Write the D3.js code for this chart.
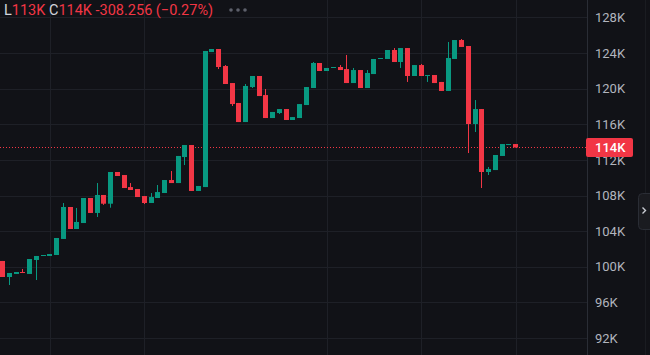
<!DOCTYPE html>
<html>
<head>
<meta charset="utf-8">
<script src="https://cdn.jsdelivr.net/npm/d3@7"></script>
<style>
  html, body { margin: 0; padding: 0; background: #111217; overflow: hidden; }
  svg { display: block; }
</style>
</head>
<body>
<div id="chart"></div>
<script>
// daily candles, prices in thousands (K)
const opens = [100.65, 98.85, 99.19, 99.41, 99.19, 100.76, 101.21, 101.21, 101.32, 103.12,
  106.71, 104.24, 104.91, 107.72, 106.04, 108.06, 107.08, 110.64, 110.30, 108.95,
  108.73, 107.94, 107.16, 107.72, 108.28, 109.74, 109.40, 112.32, 113.67, 108.51,
  108.95, 124.11, 124.45, 122.54, 120.63, 118.39, 116.25, 120.18, 121.42, 119.28,
  116.70, 117.26, 117.71, 116.48, 116.70, 118.16, 120.07, 122.88, 121.98, 122.32,
  122.43, 122.20, 120.63, 122.09, 120.07, 121.64, 123.33, 123.33, 124.34, 122.99,
  124.56, 121.42, 122.65, 121.42, 121.53, 120.75, 119.74, 123.33, 125.46, 124.79,
  116.03, 117.71, 110.64, 110.86, 112.44, 113.67, 113.78];
const highs = [100.65, 99.30, 99.41, 99.75, 100.87, 101.21, 101.32, 101.43, 103.23, 107.16,
  106.71, 106.60, 107.72, 107.72, 109.40, 108.06, 110.64, 110.64, 110.30, 109.40,
  108.73, 107.94, 108.28, 109.18, 109.74, 110.75, 112.44, 113.67, 113.67, 109.07,
  124.23, 124.45, 124.45, 122.65, 120.63, 118.39, 120.52, 121.42, 121.42, 119.96,
  117.38, 117.71, 117.71, 116.81, 118.27, 120.18, 122.99, 122.88, 122.32, 122.43,
  122.65, 123.78, 122.32, 122.09, 122.09, 123.33, 123.44, 124.34, 124.56, 124.56,
  124.56, 122.65, 122.77, 121.53, 121.53, 120.75, 125.24, 125.46, 125.57, 124.79,
  118.72, 117.71, 111.20, 112.55, 113.78, 113.78, 113.78];
const lows = [98.85, 97.95, 99.19, 99.30, 99.19, 98.51, 101.21, 101.21, 101.32, 103.12,
  104.24, 104.24, 104.91, 106.04, 105.59, 106.95, 106.63, 110.19, 108.84, 108.62,
  107.83, 107.04, 107.16, 107.72, 108.28, 109.40, 109.40, 111.42, 108.51, 108.51,
  108.95, 124.11, 122.20, 120.52, 118.05, 116.25, 116.25, 120.07, 119.17, 116.70,
  116.70, 117.15, 116.48, 116.48, 116.70, 118.16, 120.07, 121.98, 121.98, 122.32,
  122.09, 120.63, 120.63, 120.07, 120.07, 121.64, 123.33, 123.33, 122.99, 122.32,
  120.75, 121.42, 121.42, 120.75, 120.63, 119.74, 119.74, 123.33, 124.68, 112.77,
  115.13, 108.84, 110.30, 110.86, 112.44, 113.67, 113.40];
const closes = [98.85, 99.30, 99.41, 99.30, 100.87, 101.21, 101.32, 101.43, 103.23, 106.71,
  104.24, 105.03, 107.72, 106.04, 108.06, 107.08, 110.64, 110.19, 108.84, 108.62,
  107.83, 107.16, 107.83, 108.39, 109.74, 109.40, 112.44, 113.67, 108.51, 109.07,
  124.23, 124.45, 122.43, 120.52, 118.27, 116.25, 120.30, 121.42, 119.17, 116.70,
  117.38, 117.71, 116.48, 116.81, 118.27, 120.18, 122.88, 121.98, 122.32, 122.43,
  122.09, 120.63, 122.09, 120.07, 121.76, 123.33, 123.44, 124.34, 122.99, 124.56,
  121.42, 122.65, 121.42, 121.53, 120.63, 119.74, 123.44, 125.46, 124.68, 116.03,
  117.71, 110.64, 110.98, 112.55, 113.78, 113.78, 113.40];

const priceTicks = [92, 96, 100, 104, 108, 112, 116, 120, 124, 128];
const timeGridIdx = [7, 21, 48, 62, 76];

const headerParts = [
  { t: "L", kind: "key" }, { t: "113K", kind: "val" },
  { t: " C", kind: "key" }, { t: "114K", kind: "val" },
  { t: " -308.256 (\u22120.27%)", kind: "val" }
];
const lastPriceLabel = "114K";

const W = 650, H = 355;
const plotRight = 587;
const up = "#089981", down = "#f23645";
const font = "Roboto, 'Liberation Sans', sans-serif";

const candles = opens.map((o, i) => ({ i: i, o: o, h: highs[i], l: lows[i], c: closes[i] }));

const svg = d3.select("#chart").append("svg")
    .attr("width", W)
    .attr("height", H);

svg.append("rect").attr("width", W).attr("height", H).attr("fill", "#111217");

const x = d3.scaleLinear().domain([0, 76]).range([2.7, 515.7]);
const y = d3.scaleLinear().domain([92, 128]).range([338, 17.4]);

svg.append("defs").append("clipPath").attr("id", "plot")
  .append("rect").attr("width", plotRight).attr("height", H);

// grid
const grid = svg.append("g").attr("stroke", "#1e2027").attr("stroke-width", 1);
grid.selectAll(".hg").data(priceTicks).join("line")
    .attr("x1", 0).attr("x2", plotRight)
    .attr("y1", d => Math.round(y(d)) + 0.5)
    .attr("y2", d => Math.round(y(d)) + 0.5);
grid.selectAll(".vg").data(timeGridIdx).join("line")
    .attr("y1", 0).attr("y2", H)
    .attr("x1", d => Math.round(x(d)) + 0.5)
    .attr("x2", d => Math.round(x(d)) + 0.5);

// last price dotted line
const lastClose = closes[closes.length - 1];
svg.append("line")
    .attr("x1", 0).attr("x2", plotRight)
    .attr("y1", Math.round(y(lastClose)) + 0.5)
    .attr("y2", Math.round(y(lastClose)) + 0.5)
    .attr("stroke", down)
    .attr("stroke-width", 1)
    .attr("stroke-dasharray", "1,2");

// candles
const plot = svg.append("g").attr("clip-path", "url(#plot)");
const cg = plot.selectAll("g.candle").data(candles).join("g");

cg.append("line")
    .attr("x1", d => Math.round(x(d.i) - 2.5) + 2.5)
    .attr("x2", d => Math.round(x(d.i) - 2.5) + 2.5)
    .attr("y1", d => y(d.h))
    .attr("y2", d => y(d.l))
    .attr("stroke", d => d.c >= d.o ? up : down)
    .attr("stroke-width", 1);

cg.append("rect")
    .attr("x", d => Math.round(x(d.i) - 2.5))
    .attr("width", 5)
    .attr("y", d => y(Math.max(d.o, d.c)))
    .attr("height", d => Math.max(1, Math.abs(y(d.o) - y(d.c))))
    .attr("fill", d => d.c >= d.o ? up : down);

// price axis
svg.append("line")
    .attr("x1", plotRight + 0.5).attr("x2", plotRight + 0.5)
    .attr("y1", 0).attr("y2", H)
    .attr("stroke", "#2a2d35");
svg.append("line")
    .attr("x1", 645.5).attr("x2", 645.5)
    .attr("y1", 0).attr("y2", H)
    .attr("stroke", "#1a1c21");

const axis = svg.append("g")
    .attr("transform", `translate(${plotRight},0)`)
    .call(d3.axisRight(y).tickValues(priceTicks).tickFormat(d => d + "K").tickSize(0).tickPadding(8));
axis.select(".domain").remove();
axis.selectAll("text")
    .attr("fill", "#b2b5be")
    .attr("font-family", font)
    .attr("font-size", "13px");

// last price tag (sits over the 112K label, as in the original)
const tagY = Math.round(y(lastClose)) + 0.5;
svg.append("rect")
    .attr("x", 586).attr("y", tagY - 9.5)
    .attr("width", 47).attr("height", 19)
    .attr("rx", 2)
    .attr("fill", down);
svg.append("text")
    .attr("x", 595).attr("y", tagY)
    .attr("dy", "0.35em")
    .attr("fill", "#ffffff")
    .attr("font-family", font)
    .attr("font-size", "13px")
    .attr("font-weight", "500")
    .text(lastPriceLabel);

// header legend
const header = svg.append("text")
    .attr("x", 4).attr("y", 15)
    .attr("font-family", font)
    .attr("font-size", "14.5px")
    .style("white-space", "pre");
header.selectAll("tspan").data(headerParts).join("tspan")
    .attr("fill", d => d.kind === "key" ? "#d1d4dc" : down)
    .text(d => d.t);

svg.selectAll(".dot").data([0, 1, 2]).join("circle")
    .attr("cx", d => 231 + d * 7)
    .attr("cy", 10)
    .attr("r", 1.8)
    .attr("fill", "#5d606b");

// side button
svg.append("rect")
    .attr("x", 638.5).attr("y", 193.5)
    .attr("width", 16).attr("height", 36)
    .attr("rx", 4)
    .attr("fill", "#1a1b20")
    .attr("stroke", "#2a2d35");
svg.append("path")
    .attr("d", "M642.5,207.5 L645.5,210.5 L642.5,213.5")
    .attr("fill", "none")
    .attr("stroke", "#c9ccd3")
    .attr("stroke-width", 1.4);
</script>
</body>
</html>
